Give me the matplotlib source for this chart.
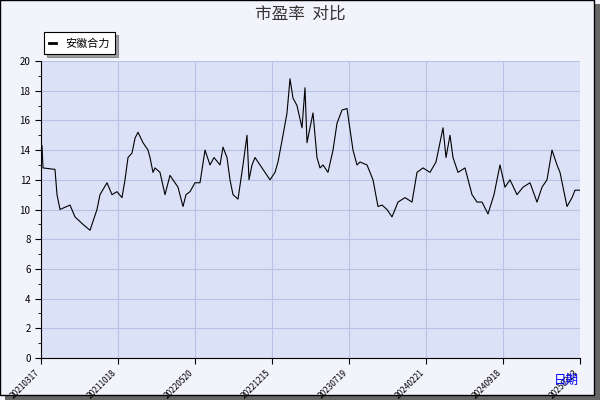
import matplotlib.pyplot as plt
import numpy as np

plt.rcParams['font.family'] = ['Noto Sans CJK SC', 'DejaVu Sans']

# position along the time axis (77 units between tick labels) and PE value
t = [1, 2, 14, 16, 19, 29, 34, 42, 49, 56, 59, 66, 71, 76, 81, 84, 87, 91, 94, 97,
     102, 107, 109, 112, 114, 119, 124, 129, 132, 137, 142, 145, 149, 154, 159, 164,
     169, 173, 179, 182, 186, 189, 192, 197, 202, 206, 208, 211, 214, 219, 224, 229,
     234, 237, 242, 246, 249, 252, 256, 261, 264, 266, 269, 272, 276, 279, 282, 287,
     292, 296, 301, 306, 312, 316, 319, 326, 332, 337, 341, 346, 351, 357, 364, 371,
     376, 382, 389, 395, 402, 405, 409, 412, 417, 424, 431, 436, 441, 447, 453, 459,
     464, 469, 476, 482, 489, 496, 501, 506, 511, 516, 519, 526, 531, 534, 539]
pe = [14.3, 12.8, 12.7, 11.0, 10.0, 10.3, 9.5, 9.0, 8.6, 10.0, 11.0, 11.8, 11.0, 11.2, 10.8, 12.0,
      13.5, 13.8, 14.8, 15.2, 14.5, 14.0, 13.5, 12.5, 12.8, 12.5, 11.0, 12.3, 12.0, 11.5,
      10.2, 11.0, 11.2, 11.8, 11.8, 14.0, 13.0, 13.5, 13.0, 14.2, 13.5, 12.0, 11.0, 10.7,
      13.0, 15.0, 12.0, 13.0, 13.5, 13.0, 12.5, 12.0, 12.5, 13.2, 15.0, 16.5, 18.8, 17.5,
      17.0, 15.5, 18.2, 14.5, 15.5, 16.5, 13.5, 12.8, 13.0, 12.5, 14.0, 15.8, 16.7, 16.8,
      14.0, 13.0, 13.2, 13.0, 12.0, 10.2, 10.3, 10.0, 9.5, 10.5, 10.8, 10.5, 12.5, 12.8,
      12.5, 13.2, 15.5, 13.5, 15.0, 13.5, 12.5, 12.8, 11.0, 10.5, 10.5, 9.7, 11.0, 13.0,
      11.5, 12.0, 11.0, 11.5, 11.8, 10.5, 11.5, 12.0, 14.0, 13.0, 12.5, 10.2, 10.8, 11.3, 11.3]
tick_labels = ['20210317', '20211018', '20220520', '20221215', '20230719',
               '20240221', '20240918', '20250323']
tick_pos = [77 * i for i in range(len(tick_labels))]

fig = plt.figure(figsize=(6, 4), dpi=100, facecolor='#f2f3fb')
# shadow frame
fig.patches.append(plt.Rectangle((0.008, 0.0), 0.992, 0.99, transform=fig.transFigure,
                                 facecolor='#666666', edgecolor='none', zorder=-2))
fig.patches.append(plt.Rectangle((0.0, 0.012), 0.99, 0.988, transform=fig.transFigure,
                                 facecolor='#f2f3fb', edgecolor='black', lw=1, zorder=-1))

ax = fig.add_axes([41 / 600, 42 / 400, 539 / 600, 297 / 400])
ax.set_facecolor('#dbe1f6')
ax.plot(t, pe, color='black', lw=0.8, label='安徽合力')
ax.set_xlim(0, 539)
ax.set_ylim(0, 20)
ax.set_yticks(range(0, 21, 2))
ax.set_yticks(range(0, 21, 1), minor=True)
ax.set_xticks(tick_pos)
ax.set_xticklabels(tick_labels, rotation=45, ha='right', fontsize=6)
ax.tick_params(axis='y', labelsize=7, length=4)
ax.tick_params(axis='y', which='minor', length=2)
ax.tick_params(axis='x', length=4)
ax.grid(True, color='#b7c3e6', lw=0.8)
for s in ['top', 'right']:
    ax.spines[s].set_visible(False)
leg = ax.legend(loc='upper left', bbox_to_anchor=(-0.005, 1.115), fontsize=8,
                frameon=True, fancybox=False, shadow=True, handlelength=0.6,
                borderpad=0.5)
leg.get_frame().set_edgecolor('black')
leg.get_frame().set_linewidth(0.8)
for line in leg.get_lines():
    line.set_linewidth(2)
fig.text(0.5, 0.965, '市盈率  对比', ha='center', va='center', fontsize=12, color='#333333')
fig.text(0.965, 0.05, '日期', ha='right', va='center', fontsize=9, color='blue')

fig.savefig('out.png', dpi=100, facecolor=fig.get_facecolor())
